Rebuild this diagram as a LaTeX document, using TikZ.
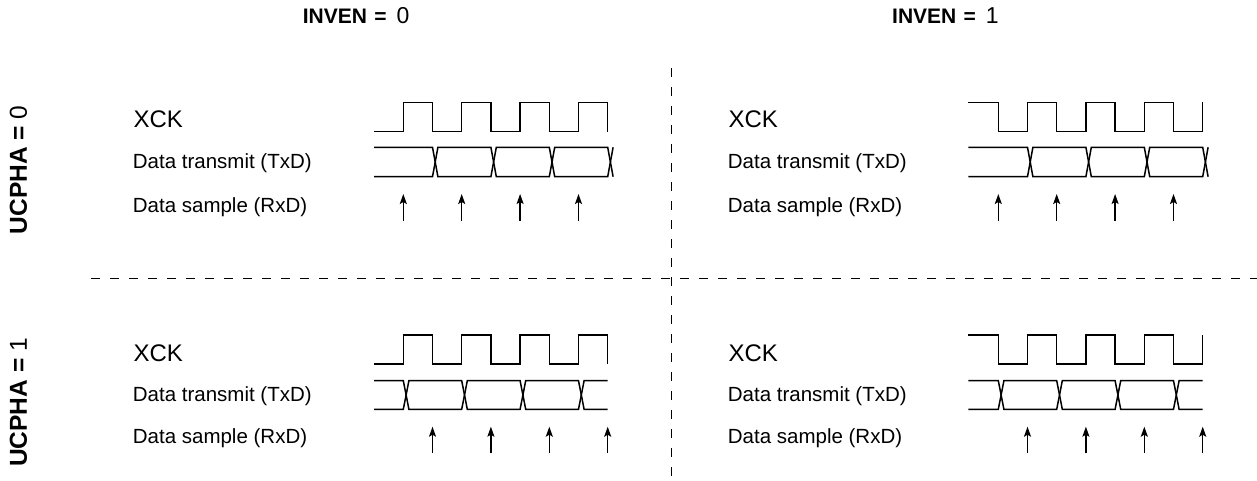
\documentclass[tikz,border=0pt]{standalone}
\usepackage{fontspec}
\setmainfont{Liberation Sans}
\usetikzlibrary{arrows.meta}
\begin{document}
\begin{tikzpicture}[x=1pt,y=-1pt,
  sig/.style={line width=1.5pt,line join=miter},
  smp/.style={line width=1.4pt,-{Stealth[length=10pt,width=7pt,inset=2pt]}},
  sep/.style={line width=1.3pt,dash pattern=on 9pt off 10pt},
  clklbl/.style={anchor=base west,inner sep=0pt,font=\fontsize{24}{28}\selectfont},
  lbl/.style={anchor=base west,inner sep=0pt,font=\fontsize{20.5}{24}\selectfont},
  hdr/.style={anchor=base west,inner sep=0pt,font=\fontsize{21}{24}\selectfont\bfseries},
  vhdr/.style={rotate=90,anchor=base,inner sep=0pt,font=\fontsize{24.5}{28}\selectfont\bfseries}]
\useasboundingbox (0,0) rectangle (1257,481);
% headers
\node[hdr] (h0) at (302.7,23.5) {INVEN\hspace{1.5pt} =\hspace{4pt} \mdseries\fontsize{23}{26}\selectfont 0};
\node[hdr] (h1) at (892,23.5) {INVEN\hspace{1.5pt} =\hspace{4pt} \mdseries\fontsize{23}{26}\selectfont 1};
\node[vhdr] (v0) at (27,170) {UCPHA = \mdseries 0};
\node[vhdr] (v1) at (27,402.5) {UCPHA = \mdseries 1};
% separators
\coordinate (sl) at (91,278.5);
\coordinate (sr) at (1257,278.5);
\coordinate (st) at (671.5,68);
\coordinate (sb) at (671.5,481);
\draw[sep] (sl) -- (sr);
\draw[sep] (st) -- (sb);
% ---------- top-left: INVEN=0, UCPHA=0
\begin{scope}
\node[clklbl] (xck00) at (133.3,127.5) {XCK};
\node[lbl] (tx00) at (132.7,168.5) {Data transmit (TxD)};
\node[lbl] (rx00) at (132.7,212.5) {Data sample (RxD)};
\draw[sig] (374,131.7) \foreach \i in {0,2,4,6} { -- ({403.3+\i*29.2},131.7) -- ({403.3+\i*29.2},102.3) -- ({403.3+(\i+1)*29.2},102.3) -- ({403.3+(\i+1)*29.2},131.7) };
\draw[sig] (374,147.3)--(432.5,147.3)--(437.9,176.7)--(490.9,176.7)--(496.3,147.3)--(549.3,147.3)--(554.7,176.7)--(607.7,176.7)--(613.1,147.3);
\draw[sig] (374,176.7)--(432.5,176.7)--(437.9,147.3)--(490.9,147.3)--(496.3,176.7)--(549.3,176.7)--(554.7,147.3)--(607.7,147.3)--(613.1,176.7);
\foreach \x in {403.3,461.7,520.1,578.5} \draw[smp] (\x,221) -- (\x,194);
\end{scope}
% ---------- top-right: INVEN=1, UCPHA=0
\begin{scope}[shift={(595,0)}]
\node[clklbl] (xck10) at (133.3,127.5) {XCK};
\node[lbl] (tx10) at (132.7,168.5) {Data transmit (TxD)};
\node[lbl] (rx10) at (132.7,212.5) {Data sample (RxD)};
\draw[sig] (373.3,102.3) \foreach \i in {0,2,4,6} { -- ({403.3+\i*29.2},102.3) -- ({403.3+\i*29.2},131.7) -- ({403.3+(\i+1)*29.2},131.7) -- ({403.3+(\i+1)*29.2},102.3) };
\draw[sig] (373.3,147.3)--(432.5,147.3)--(437.9,176.7)--(490.9,176.7)--(496.3,147.3)--(549.3,147.3)--(554.7,176.7)--(607.7,176.7)--(613.1,147.3);
\draw[sig] (373.3,176.7)--(432.5,176.7)--(437.9,147.3)--(490.9,147.3)--(496.3,176.7)--(549.3,176.7)--(554.7,147.3)--(607.7,147.3)--(613.1,176.7);
\foreach \x in {403.3,461.7,520.1,578.5} \draw[smp] (\x,221) -- (\x,194);
\end{scope}
% ---------- bottom-left: INVEN=0, UCPHA=1
\begin{scope}[shift={(0,233)}]
\node[clklbl] (xck01) at (133.3,128.5) {XCK};
\node[lbl] (tx01) at (132.7,168) {Data transmit (TxD)};
\node[lbl] (rx01) at (132.7,210) {Data sample (RxD)};
\draw[sig] (374,131) \foreach \i in {0,2,4,6} { -- ({403.3+\i*29.2},131) -- ({403.3+\i*29.2},102) -- ({403.3+(\i+1)*29.2},102) -- ({403.3+(\i+1)*29.2},131) };
\draw[sig] (374,147.7)--(403.3,147.7)--(408.9,176.3)--(461.7,176.3)--(467.3,147.7)--(520.1,147.7)--(525.7,176.3)--(578.5,176.3)--(584.1,147.7)--(607.7,147.7);
\draw[sig] (374,176.3)--(403.3,176.3)--(408.9,147.7)--(461.7,147.7)--(467.3,176.3)--(520.1,176.3)--(525.7,147.7)--(578.5,147.7)--(584.1,176.3)--(607.7,176.3);
\foreach \x in {432.5,490.9,549.3,607.7} \draw[smp] (\x,220.3) -- (\x,193.7);
\end{scope}
% ---------- bottom-right: INVEN=1, UCPHA=1
\begin{scope}[shift={(595,233)}]
\node[clklbl] (xck11) at (133.3,128.5) {XCK};
\node[lbl] (tx11) at (132.7,168) {Data transmit (TxD)};
\node[lbl] (rx11) at (132.7,210) {Data sample (RxD)};
\draw[sig] (373.3,102) \foreach \i in {0,2,4,6} { -- ({403.3+\i*29.2},102) -- ({403.3+\i*29.2},131) -- ({403.3+(\i+1)*29.2},131) -- ({403.3+(\i+1)*29.2},102) };
\draw[sig] (373.3,147.7)--(403.3,147.7)--(408.9,176.3)--(461.7,176.3)--(467.3,147.7)--(520.1,147.7)--(525.7,176.3)--(578.5,176.3)--(584.1,147.7)--(607.7,147.7);
\draw[sig] (373.3,176.3)--(403.3,176.3)--(408.9,147.7)--(461.7,147.7)--(467.3,176.3)--(520.1,176.3)--(525.7,147.7)--(578.5,147.7)--(584.1,176.3)--(607.7,176.3);
\foreach \x in {432.5,490.9,549.3,607.7} \draw[smp] (\x,220.3) -- (\x,193.7);
\end{scope}
\end{tikzpicture}
\end{document}
